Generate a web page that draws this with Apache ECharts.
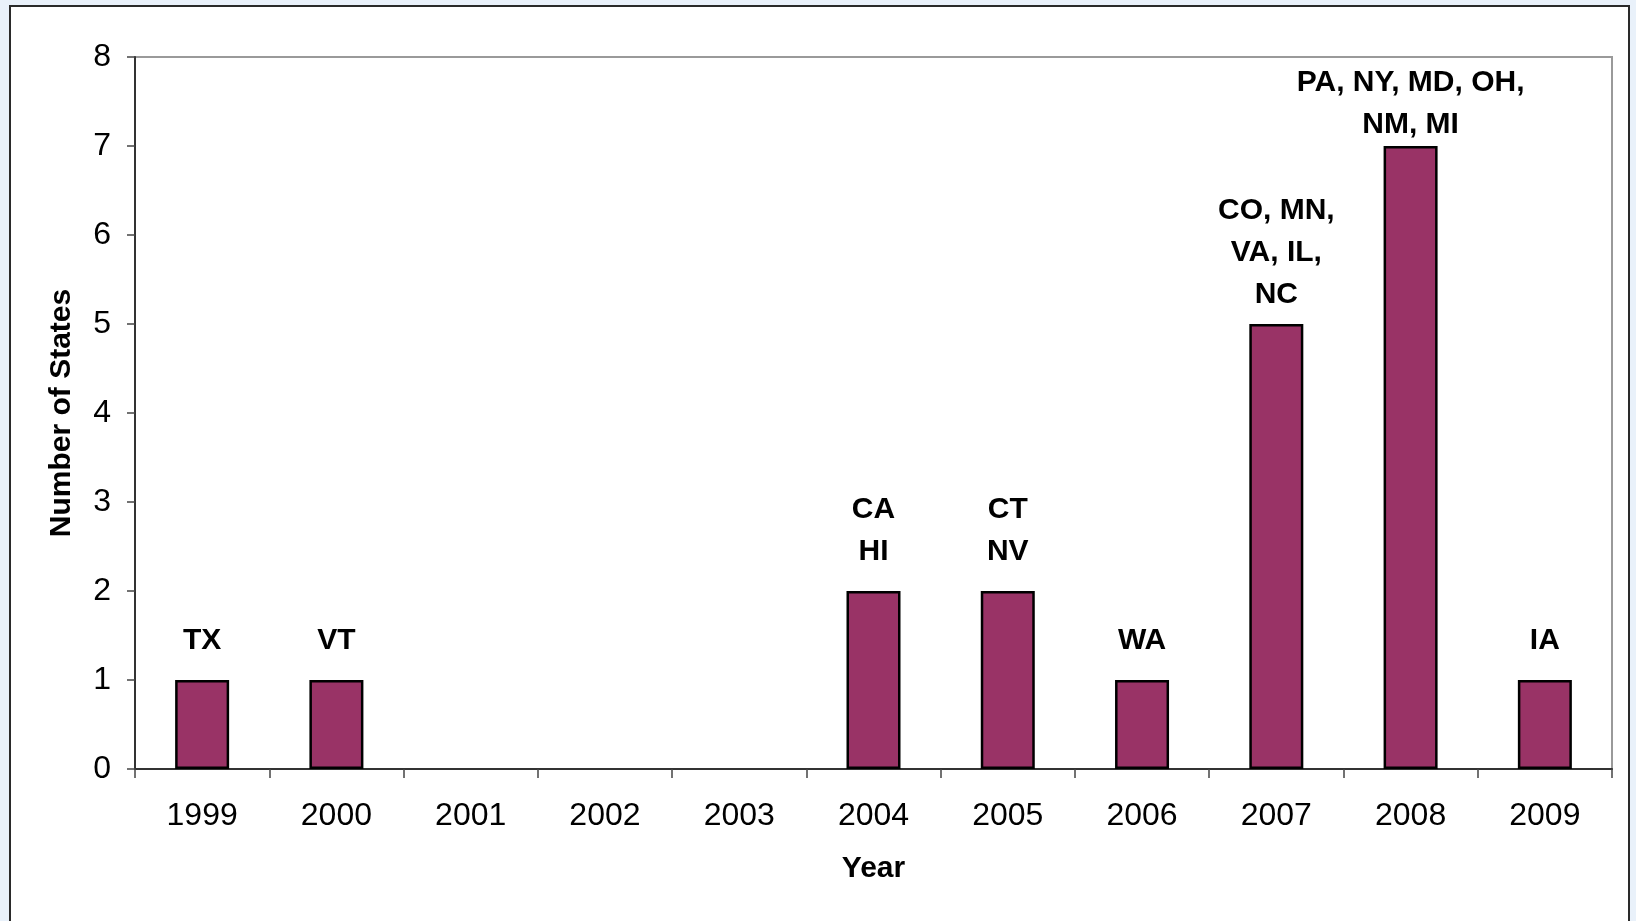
<!DOCTYPE html>
<html>
<head>
<meta charset="utf-8">
<script src="https://cdn.jsdelivr.net/npm/echarts@6/dist/echarts.min.js"></script>
<style>
  html, body { margin: 0; padding: 0; width: 1636px; height: 921px; overflow: hidden; background: #e9f1fa; }
  #frame { position: absolute; left: 9px; top: 5px; width: 1621px; height: 940px; background: #ffffff; border: 2px solid #2a2a2a; box-sizing: border-box; }
  #chart { position: absolute; left: 0; top: 0; width: 1636px; height: 921px; }
</style>
</head>
<body>
<div id="frame"></div>
<div id="chart"></div>
<script>
const years = ['1999', '2000', '2001', '2002', '2003', '2004', '2005', '2006', '2007', '2008', '2009'];
const stateCounts = [1, 1, 0, 0, 0, 2, 2, 1, 5, 7, 1];
const stateLabels = ['TX', 'VT', '', '', '', 'CA\nHI', 'CT\nNV', 'WA', 'CO, MN,\nVA, IL,\nNC', 'PA, NY, MD, OH,\nNM, MI', 'IA'];
const yTicks = [0, 1, 2, 3, 4, 5, 6, 7, 8];
const xAxisTitle = 'Year';
const yAxisTitle = 'Number of States';

const FONT = '"Liberation Sans", Arial, sans-serif';
const chart = echarts.init(document.getElementById('chart'), null, { renderer: 'canvas' });

// labels over the tallest bars sit closer to the bar top
function labelGap(v) {
  if (v >= 7) return 0;
  if (v >= 5) return 8;
  return 18;
}

const seriesData = stateCounts.map((v, i) => ({
  value: v,
  itemStyle: v > 0 ? {} : { borderWidth: 0, opacity: 0 },
  label: {
    show: v > 0,
    formatter: stateLabels[i],
    distance: labelGap(v)
  }
}));

chart.setOption({
  backgroundColor: 'transparent',
  animation: false,
  grid: {
    left: 135, right: 24, top: 57, bottom: 152,
    show: true, borderColor: '#9a9a9a', borderWidth: 2,
    outerBoundsMode: 'none'
  },
  xAxis: {
    type: 'category',
    data: years,
    boundaryGap: true,
    name: xAxisTitle,
    nameLocation: 'middle',
    nameGap: 85,
    nameTextStyle: { fontFamily: FONT, fontSize: 30, fontWeight: 'bold', color: '#000' },
    axisLine: { show: true, lineStyle: { color: '#333', width: 2 } },
    axisTick: { show: true, alignWithLabel: false, length: 9, lineStyle: { color: '#444', width: 1.5 } },
    axisLabel: { margin: 31, fontFamily: FONT, fontSize: 32, color: '#000', interval: 0 },
    splitLine: { show: false }
  },
  yAxis: {
    type: 'value',
    min: yTicks[0],
    max: yTicks[yTicks.length - 1],
    interval: 1,
    name: yAxisTitle,
    nameLocation: 'middle',
    nameGap: 58,
    nameTextStyle: { fontFamily: FONT, fontSize: 30, fontWeight: 'bold', color: '#000' },
    axisLine: { show: true, lineStyle: { color: '#333', width: 2 } },
    axisTick: { show: true, length: 8, lineStyle: { color: '#444', width: 1.5 } },
    axisLabel: { margin: 24, fontFamily: FONT, fontSize: 32, color: '#000' },
    splitLine: { show: false }
  },
  series: [{
    type: 'bar',
    data: seriesData,
    barWidth: 54,
    itemStyle: { color: '#993366', borderColor: '#000', borderWidth: 2.5 },
    label: {
      position: 'top',
      fontFamily: FONT,
      fontSize: 30,
      fontWeight: 'bold',
      color: '#000',
      lineHeight: 42,
      align: 'center'
    }
  }]
});
</script>
</body>
</html>
